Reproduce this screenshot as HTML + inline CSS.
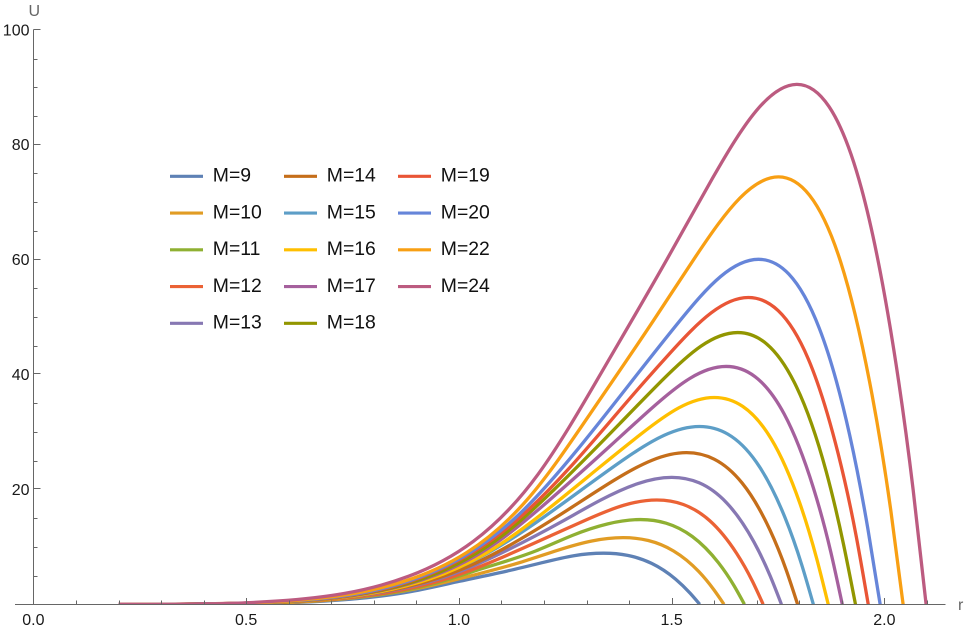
<!DOCTYPE html>
<html lang="en">
<head>
<meta charset="utf-8">
<title>U versus r for several values of M</title>
<style>
html,body{margin:0;padding:0;background:#fff;width:964px;height:628px;overflow:hidden}
svg{display:block}
text{font-family:"Liberation Sans",sans-serif}
</style>
</head>
<body>
<svg id="chart" xmlns="http://www.w3.org/2000/svg" width="964" height="628" viewBox="0 0 964 628">
  <defs><clipPath id="plot-clip"><rect x="0" y="0" width="964" height="604.3"/></clipPath></defs>
  <rect x="0" y="0" width="964" height="628" fill="#fff"/>
  <g id="curves" clip-path="url(#plot-clip)"></g>
  <g id="axes"></g>
  <g id="legend"></g>
</svg>
<script>
const xMajorTicks = [0, 0.5, 1, 1.5, 2];
const xMajorLabels = ["0.0", "0.5", "1.0", "1.5", "2.0"];
const xMinorTicks = [0.1,0.2,0.3,0.4,0.6,0.7,0.8,0.9,1.1,1.2,1.3,1.4,1.6,1.7,1.8,1.9,2.1];
const yMajorTicks = [20, 40, 60, 80, 100];
const yMajorLabels = ["20", "40", "60", "80", "100"];
const yMinorTicks = [5,10,15,25,30,35,45,50,55,65,70,75,85,90,95];

const labels = ["M=9","M=10","M=11","M=12","M=13","M=14","M=15","M=16","M=17","M=18","M=19","M=20","M=22","M=24"];
const colors = ["#5E81B5","#E19C24","#8FB032","#EB6235","#8778B3","#C56E1A","#5D9EC7","#FFBF00","#A5609D","#929600","#E95536","#6685D9","#F89F13","#BC5B80"];

const rM9 = [0.2,0.436,0.662,0.888,1.001,1.114,1.193,1.27,1.34,1.3965,1.453,1.5095,1.543,1.566];
const uM9 = [0,0.058,0.48,2.23,4,5.8,7.2,8.46,8.9,8.52,7.12,4.36,1.96,0];
const rM10 = [0.2,0.438,0.675,0.912,1.0305,1.149,1.232,1.3125,1.386,1.445,1.5045,1.564,1.599,1.623];
const uM10 = [0,0.075,0.63,2.9,5,7.4,9.4,11.02,11.6,11.1,9.28,5.68,2.55,0];
const rM11 = [0.2,0.446,0.691,0.936,1.0585,1.181,1.267,1.35,1.426,1.487,1.5485,1.61,1.6465,1.671];
const uM11 = [0,0.096,0.8,3.5,6.3,9.3,12,14,14.75,14.12,11.8,7.23,3.25,0];
const rM12 = [0.2,0.465,0.715,0.965,1.09,1.215,1.3025,1.3875,1.465,1.5275,1.59,1.6525,1.69,1.715];
const uM12 = [0,0.118,0.98,4.3,7.8,11.9,14.8,17.24,18.15,17.37,14.52,8.89,3.99,0];
const rM13 = [0.2,0.468,0.726,0.984,1.113,1.242,1.332,1.42,1.5,1.5645,1.629,1.6935,1.732,1.758];
const uM13 = [0,0.144,1.19,5.2,9.4,14.4,18.1,21,22.1,21.15,17.68,10.83,4.86,0];
const rM14 = [0.2,0.491,0.752,1.013,1.1435,1.274,1.365,1.454,1.535,1.6,1.6655,1.731,1.77,1.796];
const uM14 = [0,0.172,1.43,6.3,11.3,17.3,21.6,25.08,26.4,25.26,21.12,12.94,5.81,0];
const rM15 = [0.2,0.493,0.761,1.029,1.163,1.297,1.391,1.482,1.565,1.632,1.699,1.766,1.806,1.833];
const uM15 = [0,0.2,1.67,7.4,13.3,20.4,25.38,29.4,30.95,29.62,24.76,15.17,6.81,0];
const rM16 = [0.2,0.528,0.796,1.064,1.198,1.332,1.426,1.517,1.6,1.667,1.734,1.801,1.841,1.868];
const uM16 = [0,0.234,1.94,8.9,15.9,23.94,29.52,34.2,36,34.45,28.8,17.64,7.92,0];
const rM17 = [0.2,0.536,0.809,1.082,1.2185,1.355,1.4505,1.543,1.628,1.696,1.7645,1.833,1.874,1.901];
const uM17 = [0,0.27,2.24,10.4,18.5,27.53,33.95,39.33,41.4,39.62,33.12,20.29,9.11,0];
const rM18 = [0.2,0.547,0.824,1.101,1.2395,1.378,1.475,1.569,1.655,1.724,1.7935,1.863,1.904,1.932];
const uM18 = [0,0.31,2.55,11.9,21.1,31.45,38.79,44.94,47.3,45.27,37.84,23.18,10.41,0];
const rM19 = [0.2,0.552,0.834,1.116,1.257,1.398,1.497,1.593,1.68,1.7505,1.821,1.8915,1.934,1.962];
const uM19 = [0,0.35,2.88,13.4,23.5,35.51,43.79,50.73,53.4,51.1,42.72,26.17,11.75,0];
const rM20 = [0.2,0.56,0.846,1.132,1.275,1.418,1.518,1.615,1.704,1.7755,1.847,1.9185,1.961,1.99];
const uM20 = [0,0.39,3.24,15,26.6,39.93,49.24,57.05,60.05,57.47,48.04,29.42,13.21,0];
const rM22 = [0.2,0.579,0.872,1.165,1.3115,1.458,1.5606,1.66,1.751,1.824,1.8975,1.971,2.015,2.044];
const uM22 = [0,0.48,4.02,18.6,33.48,49.48,61,70.68,74.4,71.2,59.52,36.46,16.37,0];
const rM24 = [0.2,0.578,0.882,1.186,1.338,1.49,1.5964,1.6998,1.794,1.87,1.946,2.022,2.0676,2.098];
const uM24 = [0,0.59,4.89,22.63,40.73,60.18,74.21,85.98,90.5,86.61,72.4,44.35,19.91,0];

const seriesR = [rM9,rM10,rM11,rM12,rM13,rM14,rM15,rM16,rM17,rM18,rM19,rM20,rM22,rM24];
const seriesU = [uM9,uM10,uM11,uM12,uM13,uM14,uM15,uM16,uM17,uM18,uM19,uM20,uM22,uM24];

const NS = "http://www.w3.org/2000/svg";
const AXIS = "#666666";
function scaleX(r){ return 33.4 + r * 425.5; }
function scaleY(u){ return 604.3 - u * 5.745; }
function slug(s){ return s.toLowerCase().replace("=", "-"); }

function splinePath(xs, ys){
  const n = xs.length, h = [], a = [], b = [], c = [], r = [], M = new Array(n).fill(0);
  for (let i = 0; i < n - 1; i++) h.push(xs[i+1] - xs[i]);
  for (let i = 1; i < n - 1; i++) {
    a[i] = h[i-1];
    b[i] = 2 * (h[i-1] + h[i]);
    c[i] = h[i];
    r[i] = 6 * ((ys[i+1] - ys[i]) / h[i] - (ys[i] - ys[i-1]) / h[i-1]);
  }
  for (let i = 2; i < n - 1; i++) {
    const f = a[i] / b[i-1];
    b[i] -= f * c[i-1];
    r[i] -= f * r[i-1];
  }
  for (let i = n - 2; i >= 1; i--) {
    M[i] = (r[i] - c[i] * M[i+1]) / b[i];
  }
  let p = "M" + xs[0].toFixed(2) + " " + ys[0].toFixed(2);
  for (let i = 0; i < n - 1; i++) {
    const s = (ys[i+1] - ys[i]) / h[i];
    const d0 = s - h[i] * (2 * M[i] + M[i+1]) / 6;
    const d1 = s + h[i] * (M[i] + 2 * M[i+1]) / 6;
    const t = h[i] / 3;
    p += "C" + (xs[i] + t).toFixed(2) + " " + (ys[i] + d0 * t).toFixed(2) + " " +
         (xs[i+1] - t).toFixed(2) + " " + (ys[i+1] - d1 * t).toFixed(2) + " " +
         xs[i+1].toFixed(2) + " " + ys[i+1].toFixed(2);
  }
  return p;
}

const curves = document.getElementById("curves");
seriesR.forEach(function(rs, i){
  const path = document.createElementNS(NS, "path");
  
  
  path.setAttribute("d", splinePath(rs.map(scaleX), seriesU[i].map(scaleY)));
  path.setAttribute("fill", "none");
  path.setAttribute("stroke", colors[i]);
  path.setAttribute("stroke-width", "3.3");
  path.setAttribute("stroke-linejoin", "round");
  curves.appendChild(path);
});

const axes = document.getElementById("axes");
function axisLine(x1, y1, x2, y2, name){
  const l = document.createElementNS(NS, "line");
  
  
  l.setAttribute("x1", x1);
  l.setAttribute("y1", y1);
  l.setAttribute("x2", x2);
  l.setAttribute("y2", y2);
  l.setAttribute("stroke", AXIS);
  l.setAttribute("stroke-width", "1");
  axes.appendChild(l);
}
function axisText(str, x, y, anchor, fill, name){
  const t = document.createElementNS(NS, "text");
  
  
  t.setAttribute("x", x);
  t.setAttribute("y", y);
  t.setAttribute("text-anchor", anchor);
  t.setAttribute("fill", fill);
  t.setAttribute("font-size", "16");
  t.textContent = str;
  axes.appendChild(t);
}
axisLine(15, 604.5, 945.5, 604.5, "x-axis-line");
axisLine(33.5, 29.5, 33.5, 604.5, "y-axis-line");
xMinorTicks.forEach(function(v){
  const x = Math.round(scaleX(v)) + 0.5;
  axisLine(x, 604, x, 600.5, "x-minor-tick");
});
xMajorTicks.forEach(function(v, i){
  const x = Math.round(scaleX(v)) + 0.5;
  axisLine(x, 604, x, 598, "x-major-tick");
  axisText(xMajorLabels[i], scaleX(v), 625, "middle", "#1a1a1a", "x-tick-label");
});
yMinorTicks.forEach(function(v){
  const y = Math.round(scaleY(v)) + 0.5;
  axisLine(33.5, y, 37.5, y, "y-minor-tick");
});
yMajorTicks.forEach(function(v, i){
  const y = Math.round(scaleY(v)) - 0.5;
  axisLine(33.5, y, 40.5, y, "y-major-tick");
  axisText(yMajorLabels[i], 29.5, scaleY(v) + 5.5, "end", "#1a1a1a", "y-tick-label");
});
axisText("U", 28.5, 16, "start", "#666666", "y-axis-title");
axisText("r", 958, 610, "start", "#666666", "x-axis-title");

const legend = document.getElementById("legend");
const legendRows = 5;
labels.forEach(function(name, i){
  const col = Math.floor(i / legendRows);
  const row = i % legendRows;
  const lx = 170 + col * 114;
  const ly = 176.3 + row * 36.75;
  const entry = document.createElementNS(NS, "g");
  
  
  const swatch = document.createElementNS(NS, "line");
  
  
  swatch.setAttribute("x1", lx);
  swatch.setAttribute("x2", lx + 33);
  swatch.setAttribute("y1", ly);
  swatch.setAttribute("y2", ly);
  swatch.setAttribute("stroke", colors[i]);
  swatch.setAttribute("stroke-width", "3.2");
  entry.appendChild(swatch);
  const text = document.createElementNS(NS, "text");
  
  
  text.setAttribute("x", lx + 42.8);
  text.setAttribute("y", ly + 5.2);
  text.setAttribute("font-size", "19.4");
  text.setAttribute("fill", "#111");
  text.textContent = name;
  entry.appendChild(text);
  legend.appendChild(entry);
});
</script>
</body>
</html>
